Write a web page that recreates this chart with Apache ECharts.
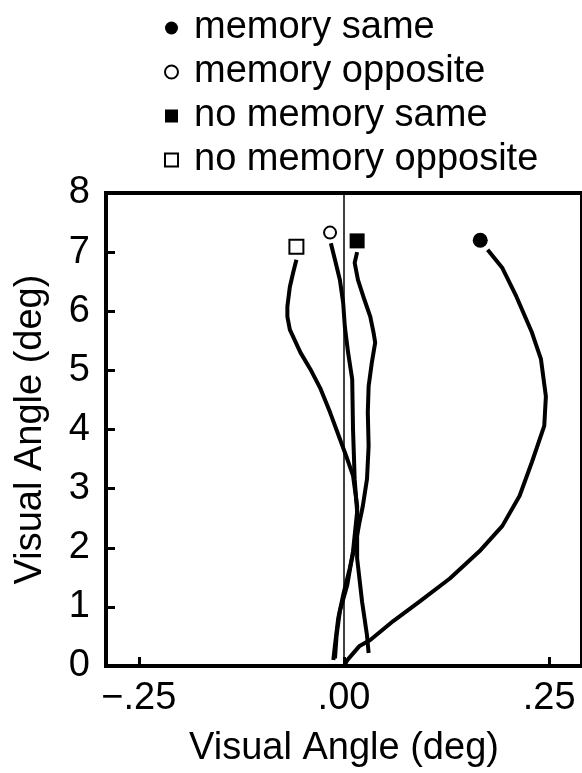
<!DOCTYPE html>
<html>
<head>
<meta charset="utf-8">
<script src="https://cdn.jsdelivr.net/npm/echarts@6/dist/echarts.min.js"></script>
<style>
html,body{margin:0;padding:0;background:#fff;overflow:hidden;}
#chart{width:582px;height:773px;}
</style>
</head>
<body>
<div id="chart"></div>
<script>
// ---- data ----
var seriesNames = ['memory same', 'memory opposite', 'no memory same', 'no memory opposite'];
var xTickValues = [-0.25, 0, 0.25];
var xTickLabels = ['\u2212.25', '.00', '.25'];
var yTickValues = [0, 1, 2, 3, 4, 5, 6, 7, 8];

// trajectory start markers (x, y)
var markerX = [0.166, -0.017, 0.016, -0.058];
var markerY = [7.2, 7.33, 7.19, 7.09];

// memory same
var memSameX = [0.175, 0.193, 0.210, 0.229, 0.240, 0.246, 0.244, 0.229, 0.214, 0.193, 0.165, 0.129, 0.092, 0.060, 0.032, 0.019, 0.004, 0.001];
var memSameY = [7.04, 6.73, 6.25, 5.64, 5.19, 4.56, 4.06, 3.45, 2.88, 2.37, 1.94, 1.48, 1.09, 0.76, 0.44, 0.34, 0.10, 0.02];
// memory opposite
var memOppX = [-0.016, -0.011, -0.005, -0.001, 0.001, 0.005, 0.010, 0.011, 0.013, 0.016, 0.011, 0.004, -0.005, -0.009, -0.011];
var memOppY = [7.15, 6.87, 6.53, 6.14, 5.74, 5.30, 4.85, 4.00, 3.16, 2.61, 1.94, 1.37, 0.93, 0.52, 0.13];
// no memory same
var noMemSameX = [0.016, 0.013, 0.017, 0.025, 0.032, 0.036, 0.038, 0.034, 0.030, 0.029, 0.030, 0.028, 0.023, 0.019, 0.016, 0.007, -0.001, -0.007, -0.011, -0.013];
var noMemSameY = [7.00, 6.82, 6.53, 6.19, 5.91, 5.64, 5.47, 5.14, 4.73, 4.29, 3.72, 3.16, 2.71, 2.44, 2.21, 1.65, 1.20, 0.81, 0.35, 0.10];
// no memory opposite
var noMemOppX = [-0.058, -0.062, -0.066, -0.069, -0.069, -0.066, -0.053, -0.041, -0.029, -0.017, -0.005, 0.004, 0.011, 0.016, 0.016, 0.022, 0.028, 0.030];
var noMemOppY = [6.87, 6.65, 6.41, 6.08, 5.91, 5.69, 5.30, 5.02, 4.70, 4.29, 3.84, 3.50, 3.22, 2.71, 1.82, 1.09, 0.52, 0.22];

// zero reference line
var zeroLineX = [0, 0];
var zeroLineY = [0, 8];

// ---- build ----
function pairs(xs, ys) { return xs.map(function (x, i) { return [x, ys[i]]; }); }
var FONT = '"Liberation Sans", Arial, Helvetica, sans-serif';
var FS = 38;
var traces = [pairs(memSameX, memSameY), pairs(memOppX, memOppY), pairs(noMemSameX, noMemSameY), pairs(noMemOppX, noMemOppY)];
var markerSymbols = ['circle', 'circle', 'rect', 'rect'];
var markerFilled = [true, false, true, false];
var markerSizes = [15, 12, 15, 14];

var series = [];
series.push({
  type: 'line', data: pairs(zeroLineX, zeroLineY), symbol: 'none', silent: true,
  lineStyle: { color: '#000', width: 1.5 }, z: 1
});
traces.forEach(function (t) {
  series.push({
    type: 'line', data: t, symbol: 'none', silent: true,
    lineStyle: { color: '#000', width: 4 }, z: 2
  });
});
seriesNames.forEach(function (n, i) {
  series.push({
    name: n, type: 'scatter', data: [[markerX[i], markerY[i]]],
    symbol: markerSymbols[i], symbolSize: markerSizes[i],
    itemStyle: markerFilled[i]
      ? { color: '#000', opacity: 1 }
      : { color: '#fff', borderColor: '#000', borderWidth: 2, opacity: 1 },
    z: 3
  });
});

var chart = echarts.init(document.getElementById('chart'), null, { renderer: 'canvas' });
chart.setOption({
  animation: false,
  backgroundColor: '#fff',
  textStyle: { fontFamily: FONT },
  legend: {
    orient: 'vertical', left: 159, top: 4,
    itemWidth: 13, itemHeight: 13, itemGap: 6,
    selectedMode: false,
    textStyle: { fontFamily: FONT, fontSize: FS, color: '#000', lineHeight: 38, padding: [0, 0, 0, 11] },
    data: seriesNames.map(function (n, i) {
      return {
        name: n, icon: markerSymbols[i],
        itemStyle: markerFilled[i]
          ? { color: '#000', opacity: 1, borderWidth: 0 }
          : { color: '#fff', borderColor: '#000', borderWidth: 2, opacity: 1 }
      };
    })
  },
  grid: {
    left: 106, top: 193, bottom: 105, right: -2,
    show: true, borderColor: '#000', borderWidth: 4, backgroundColor: 'transparent'
  },
  xAxis: {
    type: 'value', min: -0.29, max: 0.29,
    name: 'Visual Angle (deg)', nameLocation: 'middle', nameGap: 64,
    nameTextStyle: { fontFamily: FONT, fontSize: FS, color: '#000' },
    axisLine: { show: true, onZero: false, lineStyle: { color: '#000', width: 4 } },
    axisTick: { show: true, inside: true, length: 9, customValues: xTickValues, lineStyle: { color: '#000', width: 3 } },
    axisLabel: {
      customValues: xTickValues, margin: 14,
      fontFamily: FONT, fontSize: FS, color: '#000',
      formatter: function (v) {
        var i = xTickValues.indexOf(Math.round(v * 100) / 100);
        return i >= 0 ? xTickLabels[i] : '';
      }
    },
    splitLine: { show: false }
  },
  yAxis: {
    type: 'value', min: 0, max: 8, interval: 1,
    name: 'Visual Angle (deg)', nameLocation: 'middle', nameGap: 56,
    nameTextStyle: { fontFamily: FONT, fontSize: FS, color: '#000' },
    axisLine: { show: true, onZero: false, lineStyle: { color: '#000', width: 4 } },
    axisTick: { show: true, inside: true, length: 9, lineStyle: { color: '#000', width: 3 } },
    axisLabel: { margin: 16, fontFamily: FONT, fontSize: FS, color: '#000' },
    splitLine: { show: false }
  },
  series: series
});
</script>
</body>
</html>
